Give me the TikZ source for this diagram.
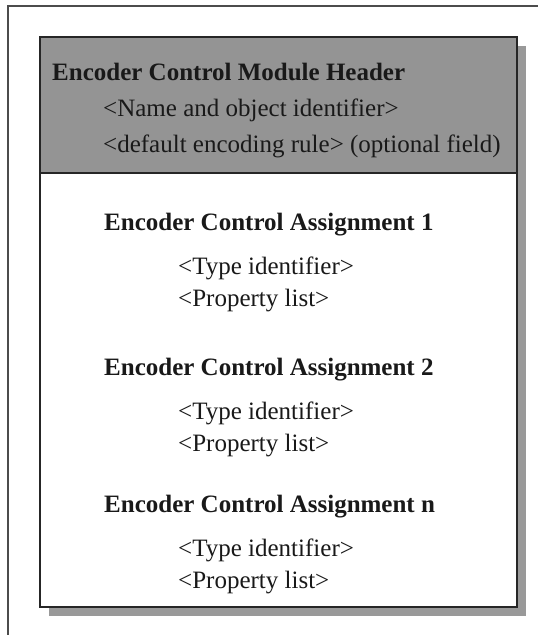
\documentclass[tikz,border=0pt]{standalone}
\usepackage{fontspec}
\setmainfont{Liberation Serif}

\begin{document}
\begin{tikzpicture}
    [x=1pt, y=-1pt,
     heading/.style={anchor=base west, inner sep=0pt, text=black!90, font=\fontsize{25}{30}\selectfont\bfseries},
     entry/.style={anchor=base west, inner sep=0pt, text=black!90, font=\fontsize{25}{30}\selectfont},
     frame/.style={draw=black!85, line width=1.5pt}]
    \useasboundingbox (0,0) rectangle (538,635);
    \clip (0,0) rectangle (538,635);

    % outer frame, runs off the page to the right and below
    \draw[black!70, line width=1.2pt] (8,6) rectangle (570,670);

    % drop shadow, box and header band
    \fill[black!40] (49,46) rectangle (526,616);
    \filldraw[frame, fill=white] (40,37) rectangle (517,607);
    \filldraw[frame, fill=black!42] (40,37) rectangle (517,173);

    \node (head) at (52,80) [heading] {Encoder Control Module Header};
    \node (oid) at (103,116) [entry] {<Name and object identifier>};
    \node (rule) at (103,152) [entry] {<default encoding rule> (optional field)};

    \node (asg1) at (104,230) [heading] {Encoder Control Assignment 1};
    \node (type1) at (178,274) [entry] {<Type identifier>};
    \node (prop1) at (178,306) [entry] {<Property list>};

    \node (asg2) at (104,375) [heading] {Encoder Control Assignment 2};
    \node (type2) at (178,419) [entry] {<Type identifier>};
    \node (prop2) at (178,451) [entry] {<Property list>};

    \node (asgn) at (104,512) [heading] {Encoder Control Assignment n};
    \node (typen) at (178,556) [entry] {<Type identifier>};
    \node (propn) at (178,588) [entry] {<Property list>};
\end{tikzpicture}
\end{document}
